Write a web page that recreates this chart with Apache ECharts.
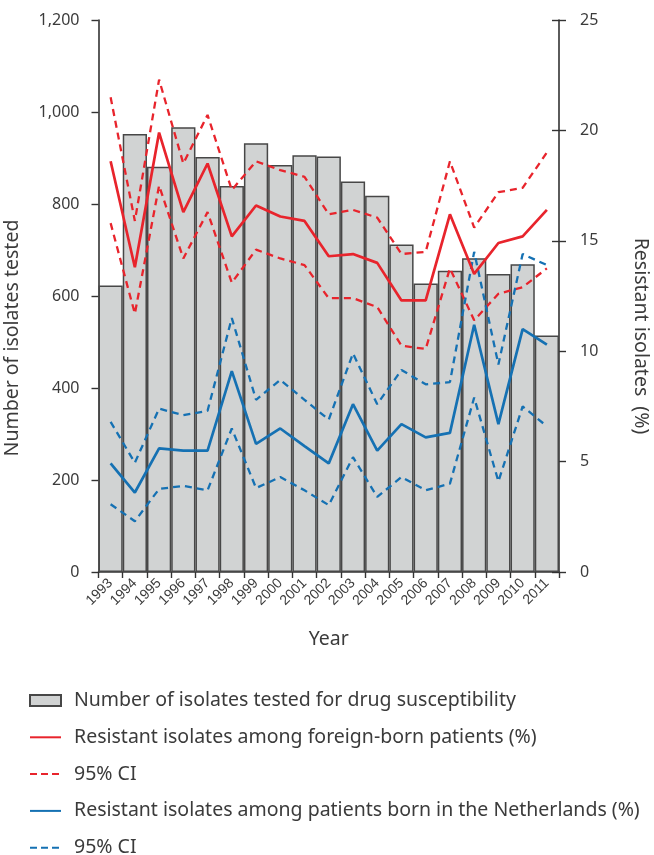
<!DOCTYPE html>
<html>
<head>
<meta charset="utf-8">
<script src="https://cdn.jsdelivr.net/npm/echarts@6/dist/echarts.min.js"></script>
<style>
html,body{margin:0;padding:0;background:#fff;}
#chart{width:654px;height:855px;}
</style>
</head>
<body>
<div id="chart"></div>
<script>
var years = ['1993','1994','1995','1996','1997','1998','1999','2000','2001','2002','2003','2004','2005','2006','2007','2008','2009','2010','2011'];
var tested = [623, 952, 881, 967, 902, 839, 932, 885, 906, 903, 849, 818, 712, 627, 655, 682, 648, 669, 514];
var foreign = [18.6, 13.8, 19.9, 16.3, 18.5, 15.2, 16.6, 16.1, 15.9, 14.3, 14.4, 14.0, 12.3, 12.3, 16.2, 13.5, 14.9, 15.2, 16.4];
var foreignUpper = [21.5, 15.9, 22.3, 18.5, 20.7, 17.3, 18.6, 18.2, 17.9, 16.2, 16.4, 16.05, 14.4, 14.5, 18.6, 15.6, 17.2, 17.4, 19.0];
var foreignLower = [15.8, 11.7, 17.5, 14.2, 16.3, 13.1, 14.6, 14.2, 13.9, 12.4, 12.4, 12.0, 10.25, 10.1, 13.75, 11.4, 12.6, 12.9, 13.75];
var dutch = [4.92, 3.6, 5.6, 5.5, 5.5, 9.1, 5.8, 6.5, 5.7, 4.92, 7.6, 5.5, 6.7, 6.1, 6.3, 11.2, 6.7, 11.0, 10.3];
var dutchUpper = [6.8, 4.95, 7.4, 7.1, 7.3, 11.5, 7.8, 8.7, 7.8, 6.9, 9.9, 7.6, 9.15, 8.5, 8.6, 14.5, 9.4, 14.4, 13.9];
var dutchLower = [3.07, 2.3, 3.76, 3.9, 3.7, 6.5, 3.8, 4.3, 3.7, 3.03, 5.2, 3.4, 4.3, 3.7, 4.0, 7.9, 4.1, 7.5, 6.6];

var leftTicks = [0, 200, 400, 600, 800, 1000, 1200];
var rightTicks = [0, 5, 10, 15, 20, 25];

var RED = '#e8242c';
var BLUE = '#1571b3';
var TXT = '#3b3b3b';
var AX = '#333333';
var FONT = 'Noto Sans';

var names = {
  bars: 'Number of isolates tested for drug susceptibility',
  fb: 'Resistant isolates among foreign-born patients (%)',
  ciR: 'ciRed',
  nl: 'Resistant isolates among patients born in the Netherlands (%)',
  ciB: 'ciBlue'
};

function lineSeries(name, data, color, dashed) {
  return {
    name: name,
    type: 'line',
    yAxisIndex: 1,
    data: data,
    symbol: 'none',
    z: dashed ? 3 : 4,
    lineStyle: {color: color, width: dashed ? 2.3 : 2.7, type: dashed ? [7, 5] : 'solid'},
    itemStyle: {color: color}
  };
}

var hiddenSym = {opacity: 0};

var chart = echarts.init(document.getElementById('chart'), null, {renderer: 'canvas'});
chart.setOption({
  backgroundColor: '#ffffff',
  animation: false,
  textStyle: {fontFamily: FONT, color: TXT},
  grid: {left: 98.5, right: 95, top: 20, bottom: 283, containLabel: false, outerBoundsMode: 'none'},
  legend: {
    orient: 'vertical',
    left: 29,
    top: 690.5,
    height: 180,
    padding: 0,
    itemWidth: 31,
    itemHeight: 11,
    itemGap: 16.8,
    textStyle: {fontFamily: FONT, fontSize: 19.5, color: TXT, padding: [0, 0, 0, 8]},
    formatter: function (n) { return (n === 'ciRed' || n === 'ciBlue') ? '95% CI' : n; },
    data: [
      {name: names.bars, icon: 'rect'},
      {name: names.fb, itemStyle: hiddenSym},
      {name: names.ciR, itemStyle: hiddenSym, lineStyle: {type: [7, 4]}},
      {name: names.nl, itemStyle: hiddenSym},
      {name: names.ciB, itemStyle: hiddenSym, lineStyle: {type: [7, 4]}}
    ],
    selectedMode: false
  },
  xAxis: {
    type: 'category',
    data: years,
    boundaryGap: true,
    name: 'Year',
    nameLocation: 'middle',
    nameGap: 57,
    nameTextStyle: {fontFamily: FONT, fontSize: 19.5, color: TXT},
    axisLine: {lineStyle: {color: AX, width: 1.6}},
    axisTick: {show: true, length: 6, interval: 0, lineStyle: {color: AX, width: 1.4}},
    axisLabel: {rotate: 45, interval: 0, margin: 9, fontSize: 14, color: TXT, fontFamily: 'Liberation Sans'}
  },
  yAxis: [
    {
      type: 'value',
      position: 'left',
      min: leftTicks[0],
      max: leftTicks[leftTicks.length - 1],
      interval: 200,
      name: 'Number of isolates tested',
      nameLocation: 'middle',
      nameGap: 76,
      nameTextStyle: {fontFamily: FONT, fontSize: 19.5, color: TXT, padding: [0, 84, 0, 0]},
      axisLine: {show: true, lineStyle: {color: AX, width: 1.6}},
      axisTick: {show: true, length: 7, lineStyle: {color: AX, width: 1.4}},
      axisLabel: {margin: 19, fontSize: 16, color: TXT, fontFamily: FONT,
        formatter: function (v) { return v.toLocaleString('en-US'); }},
      splitLine: {show: false}
    },
    {
      type: 'value',
      position: 'right',
      min: rightTicks[0],
      max: rightTicks[rightTicks.length - 1],
      interval: 5,
      name: 'Resistant isolates  (%)',
      nameLocation: 'middle',
      nameGap: 72,
      nameRotate: -90,
      nameTextStyle: {fontFamily: FONT, fontSize: 19.5, color: TXT, padding: [0, 0, 0, 80]},
      axisLine: {show: true, lineStyle: {color: AX, width: 1.6}},
      axisTick: {show: true, length: 7, lineStyle: {color: AX, width: 1.4}},
      axisLabel: {margin: 21, fontSize: 16, color: TXT, fontFamily: FONT},
      splitLine: {show: false}
    },
    {
      type: 'value',
      position: 'right',
      min: rightTicks[0],
      max: rightTicks[rightTicks.length - 1],
      interval: 5,
      axisLine: {show: false},
      axisTick: {show: true, inside: true, length: 7, lineStyle: {color: AX, width: 1.4}},
      axisLabel: {show: false},
      splitLine: {show: false}
    }
  ],
  series: [
    {
      name: names.bars,
      type: 'bar',
      data: tested,
      barCategoryGap: '0%',
      z: 1,
      itemStyle: {color: '#d1d3d3', borderColor: '#474747', borderWidth: 1.5}
    },
    lineSeries(names.fb, foreign, RED, false),
    lineSeries(names.ciR, foreignUpper, RED, true),
    lineSeries(names.ciR, foreignLower, RED, true),
    lineSeries(names.nl, dutch, BLUE, false),
    lineSeries(names.ciB, dutchUpper, BLUE, true),
    lineSeries(names.ciB, dutchLower, BLUE, true)
  ]
});
</script>
</body>
</html>
